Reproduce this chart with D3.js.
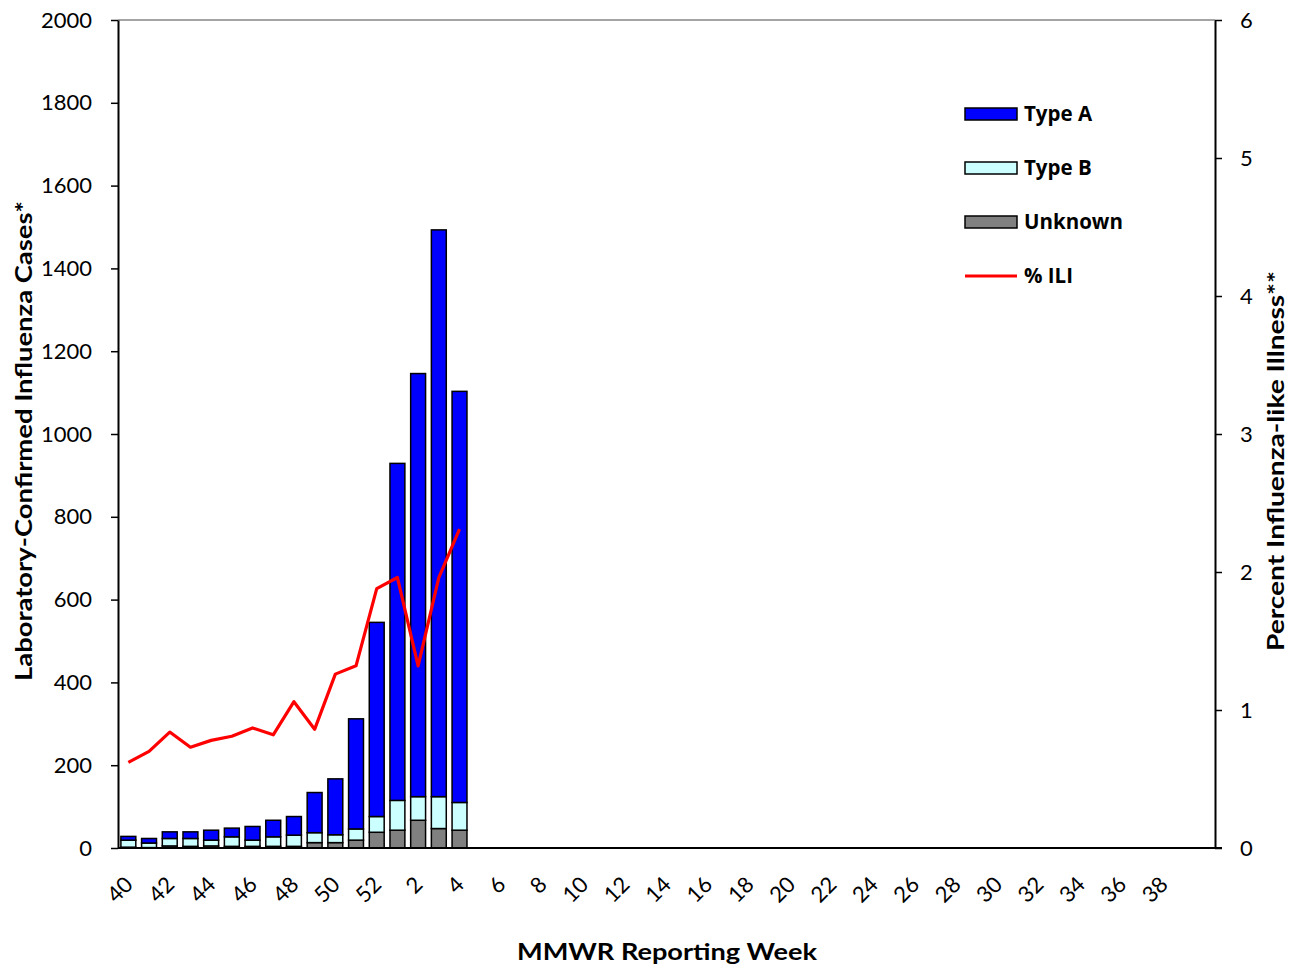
<!DOCTYPE html>
<html>
<head>
<meta charset="utf-8">
<script src="https://cdn.jsdelivr.net/npm/d3@7"></script>
<style>
  body { margin: 0; background: #fff; }
  text { font-family: Lato, "Open Sans", sans-serif; }
</style>
</head>
<body>
<svg id="chart" width="1297" height="970"></svg>
<script>
  // weeks on the x axis (season runs week 40 through week 40 of next year)
  const weeks = [40, 41, 42, 43, 44, 45, 46, 47, 48, 49, 50, 51, 52,
    1, 2, 3, 4, 5, 6, 7, 8, 9, 10, 11, 12, 13, 14, 15, 16, 17, 18, 19, 20,
    21, 22, 23, 24, 25, 26, 27, 28, 29, 30, 31, 32, 33, 34, 35, 36, 37, 38, 39, 40.1];
  const tickWeeks = [40, 42, 44, 46, 48, 50, 52, 2, 4, 6, 8, 10, 12, 14, 16, 18, 20,
    22, 24, 26, 28, 30, 32, 34, 36, 38];

  // reported weeks so far
  const reportedWeeks = [40, 41, 42, 43, 44, 45, 46, 47, 48, 49, 50, 51, 52, 1, 2, 3, 4];
  const typeA   = [9, 11, 16, 16, 24, 21, 33, 40, 45, 97, 135, 266, 469, 814, 1022, 1369, 993];
  const typeB   = [17, 11, 18, 19, 14, 23, 15, 23, 27, 24, 19, 27, 38, 72, 57, 77, 67];
  const unknown = [2, 1, 5, 4, 5, 4, 4, 4, 4, 13, 13, 19, 38, 43, 67, 47, 43];
  const pctILI  = [0.62, 0.70, 0.84, 0.73, 0.78, 0.81, 0.87, 0.82, 1.06, 0.86, 1.26, 1.32,
    1.88, 1.96, 1.32, 1.96, 2.31];

  const leftTicks = d3.range(0, 2001, 200);
  const rightTicks = [0, 1, 2, 3, 4, 5, 6];

  const colors = { A: "#0000ff", B: "#ccffff", U: "#808080", ili: "#ff0000" };

  const plotLeft = 118, plotRight = 1215, plotTop = 20, plotBottom = 848;
  const svg = d3.select("#chart");

  const x = d3.scaleBand().domain(weeks).range([plotLeft, plotRight]).paddingInner(0.28).paddingOuter(0.14);
  const y = d3.scaleLinear().domain([0, 2000]).range([plotBottom, plotTop]);
  const y2 = d3.scaleLinear().domain([0, 6]).range([plotBottom, plotTop]);

  // top border of plot area
  svg.append("line")
    .attr("x1", plotLeft).attr("x2", plotRight).attr("y1", plotTop).attr("y2", plotTop)
    .attr("stroke", "#868686").attr("stroke-width", 1.5);

  // stacked bars
  const rows = reportedWeeks.map((w, i) => ({ week: w, U: unknown[i], B: typeB[i], A: typeA[i] }));
  const stack = d3.stack().keys(["U", "B", "A"])(rows);
  svg.append("g").selectAll("g")
    .data(stack)
    .join("g")
    .attr("fill", d => colors[d.key])
    .selectAll("rect")
    .data(d => d)
    .join("rect")
    .attr("x", d => x(d.data.week))
    .attr("width", x.bandwidth())
    .attr("y", d => y(d[1]))
    .attr("height", d => y(d[0]) - y(d[1]))
    .attr("stroke", "#000")
    .attr("stroke-width", 1.5);

  // ILI line
  const line = d3.line()
    .x((d, i) => x(reportedWeeks[i]) + x.bandwidth() / 2)
    .y(d => y2(d));
  svg.append("path")
    .datum(pctILI)
    .attr("fill", "none")
    .attr("stroke", colors.ili)
    .attr("stroke-width", 3.2)
    .attr("stroke-linejoin", "round")
    .attr("d", line);

  // left axis
  const gl = svg.append("g")
    .attr("transform", `translate(${plotLeft},0)`)
    .call(d3.axisLeft(y).tickValues(leftTicks).tickFormat(d3.format("d"))
      .tickSize(7).tickPadding(19).tickSizeOuter(0));
  // right axis
  const gr = svg.append("g")
    .attr("transform", `translate(${plotRight},0)`)
    .call(d3.axisRight(y2).tickValues(rightTicks).tickFormat(d3.format("d"))
      .tickSize(7).tickPadding(18).tickSizeOuter(0));
  [gl, gr].forEach(g => {
    g.select(".domain").attr("stroke", "#000").attr("stroke-width", 2);
    g.selectAll(".tick line").attr("stroke", "#000").attr("stroke-width", 1.5);
    g.selectAll(".tick text").style("font-size", "22px").attr("fill", "#000")
      .style("font-family", "Lato, sans-serif");
  });

  // bottom axis
  svg.append("line")
    .attr("x1", plotLeft).attr("x2", plotRight + 7).attr("y1", plotBottom).attr("y2", plotBottom)
    .attr("stroke", "#000").attr("stroke-width", 2);
  svg.append("g").selectAll("text")
    .data(tickWeeks)
    .join("text")
    .attr("transform", d => `translate(${x(d) + x.bandwidth() / 2 + 6},${plotBottom + 38}) rotate(-45)`)
    .attr("text-anchor", "end")
    .style("font-size", "22px")
    .text(d => d);

  // axis titles
  svg.append("text")
    .attr("transform", `translate(32,441) rotate(-90)`)
    .attr("text-anchor", "middle")
    .attr("textLength", 480).attr("lengthAdjust", "spacingAndGlyphs")
    .style("font-size", "23px").style("font-weight", "bold")
    .text("Laboratory-Confirmed Influenza Cases*");
  svg.append("text")
    .attr("transform", `translate(1284,461) rotate(-90)`)
    .attr("text-anchor", "middle")
    .attr("textLength", 380).attr("lengthAdjust", "spacingAndGlyphs")
    .style("font-size", "23px").style("font-weight", "bold")
    .text("Percent Influenza-like Illness**");
  svg.append("text")
    .attr("x", 667).attr("y", 960)
    .attr("text-anchor", "middle")
    .attr("textLength", 300).attr("lengthAdjust", "spacingAndGlyphs")
    .style("font-size", "23px").style("font-weight", "bold")
    .text("MMWR Reporting Week");

  // legend
  const legendItems = [
    { label: "Type A", color: colors.A, kind: "box" },
    { label: "Type B", color: colors.B, kind: "box" },
    { label: "Unknown", color: colors.U, kind: "box" },
    { label: "% ILI", color: colors.ili, kind: "line" }
  ];
  const lg = svg.append("g").attr("transform", "translate(965,114)");
  legendItems.forEach((d, i) => {
    const row = lg.append("g").attr("transform", `translate(0,${i * 54})`);
    if (d.kind === "box") {
      row.append("rect").attr("x", 0).attr("y", -6).attr("width", 52).attr("height", 12)
        .attr("fill", d.color).attr("stroke", "#000").attr("stroke-width", 1.5);
    } else {
      row.append("line").attr("x1", 0).attr("x2", 52).attr("y1", 0).attr("y2", 0)
        .attr("stroke", d.color).attr("stroke-width", 3.2);
    }
    row.append("text").attr("x", 59).attr("y", 7)
      .style("font-family", "'Open Sans', sans-serif")
      .style("font-size", "20.5px").style("font-weight", "bold")
      .text(d.label);
  });
</script>
</body>
</html>
